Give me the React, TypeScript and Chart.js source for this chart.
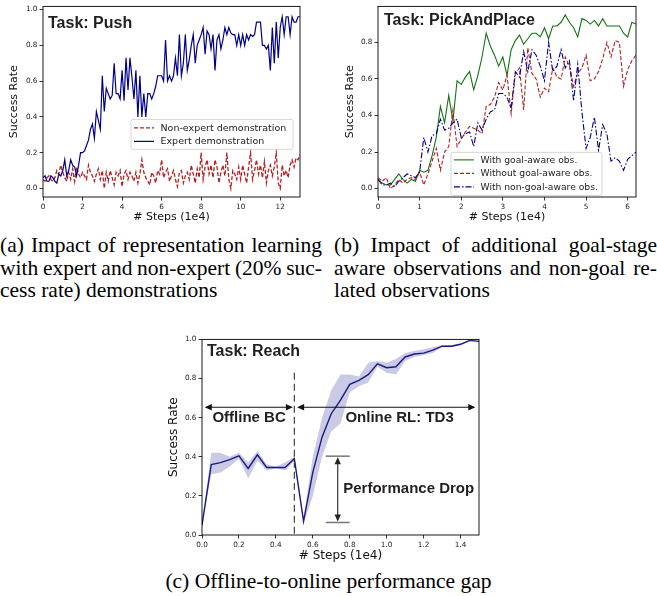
import { useEffect, useRef } from "react";
import { Chart, registerables } from "chart.js";

Chart.register(...registerables);

// ---- data (success rate per evaluation step) ----

// (a) Push: evaluations every 0.1 (x1e4) steps, 0 .. 13
const pushNonExpert = [
	0.05, 0.04, 0.06, 0.07, 0.05, 0.04, 0.06, 0.1, 0.08, 0.13,
	0.09, 0.06, 0.04, 0.09, 0.05, 0.11, 0.04, 0.12, 0.08, 0.06,
	0.09, 0.07, 0.05, 0.13, 0.09, 0.07, 0.04, 0.08, 0.11, 0.05,
	0.1, 0.0, 0.09, 0.04, 0.1, 0.06, 0.02, 0.09, 0.07, 0.1,
	0.01, 0.08, 0.1, 0.05, 0.09, 0.07, 0.04, 0.09, 0.03, 0.08,
	0.16, 0.09, 0.06, 0.04, 0.02, 0.09, 0.07, 0.03, 0.1, 0.08,
	0.16, 0.06, 0.09, 0.11, 0.04, 0.07, 0.1, 0.05, 0.01, 0.09,
	0.1, 0.03, 0.07, 0.09, 0.05, 0.13, 0.08, 0.03, 0.11, 0.06,
	0.2, 0.05, 0.12, 0.16, 0.08, 0.13, 0.06, 0.16, 0.12, 0.03,
	0.09, 0.13, 0.07, 0.2, 0.05, 0.0, 0.1, 0.08, 0.05, 0.12,
	0.05, 0.13, 0.08, 0.03, 0.12, 0.2, 0.05, 0.1, 0.16, 0.08,
	0.13, 0.06, 0.15, 0.03, 0.1, 0.13, 0.07, 0.12, 0.2, 0.03,
	0.0, 0.13, 0.07, 0.1, 0.06, 0.13, 0.16, 0.12, 0.17, 0.16,
	0.19,
];
const pushExpert = [
	0.06, 0.07, 0.04, 0.04, 0.07, 0.06, 0.04, 0.03, 0.08, 0.07,
	0.1, 0.16, 0.07, 0.1, 0.16, 0.13, 0.12, 0.07, 0.13, 0.2,
	0.2, 0.21, 0.24, 0.27, 0.33, 0.36, 0.28, 0.43, 0.38, 0.33,
	0.63, 0.43, 0.56, 0.53, 0.5, 0.52, 0.7, 0.53, 0.53, 0.5,
	0.66, 0.49, 0.73, 0.55, 0.73, 0.62, 0.5, 0.66, 0.4, 0.63,
	0.4, 0.53, 0.4, 0.53, 0.53, 0.5, 0.53, 0.57, 0.63, 0.63,
	0.63, 0.6, 0.83, 0.6, 0.63, 0.6, 0.63, 0.73, 0.63, 0.86,
	0.63, 0.7, 0.86, 0.66, 0.72, 0.8, 0.86, 0.7, 0.8, 0.83,
	0.86, 0.9, 0.75, 0.88, 0.86, 0.78, 0.86, 0.66, 0.83, 0.86,
	0.78, 0.83, 0.9, 0.86, 0.9, 0.87, 0.86, 0.86, 0.8, 0.86,
	0.8, 0.86, 0.8, 0.86, 0.83, 0.86, 0.85, 0.86, 0.93, 0.93,
	0.93, 0.8, 0.8, 0.78, 0.8, 0.66, 0.9, 0.7, 0.93, 0.73,
	0.9, 0.96, 0.86, 0.96, 0.96, 0.86, 0.96, 0.93, 0.93, 0.96,
	0.96,
];

// (b) PickAndPlace: every 0.1 (x1e4) steps, 0 .. 6.2
const pickGoalAware = [
	0.05, 0.03, 0.02, 0.02, 0.05, 0.08, 0.05, 0.03, 0.05, 0.04,
	0.1, 0.09, 0.1, 0.18, 0.28, 0.45, 0.36, 0.51, 0.37, 0.59,
	0.57, 0.61, 0.64, 0.54, 0.62, 0.72, 0.85, 0.78, 0.73, 0.67,
	0.72, 0.62, 0.76, 0.81, 0.84, 0.79, 0.82, 0.85, 0.85, 0.83,
	0.88, 0.82, 0.89, 0.89, 0.91, 0.95, 0.91, 0.88, 0.83, 0.93,
	0.92, 0.9, 0.92, 0.89, 0.93, 0.89, 0.89, 0.89, 0.89, 0.85,
	0.83, 0.91, 0.9,
];
const pickWithoutGoalAware = [
	0.06, 0.04, 0.06, 0.0, 0.02, 0.05, 0.03, 0.05, 0.06, 0.05,
	0.09, 0.02, 0.08, 0.15, 0.22, 0.1, 0.2, 0.23, 0.43, 0.23,
	0.27, 0.31, 0.34, 0.33, 0.32, 0.3, 0.45, 0.46, 0.5, 0.58,
	0.54, 0.62, 0.41, 0.63, 0.66, 0.43, 0.77, 0.63, 0.6, 0.5,
	0.55, 0.53, 0.66, 0.61, 0.6, 0.72, 0.67, 0.56, 0.63, 0.66,
	0.73, 0.59, 0.6, 0.64, 0.71, 0.8, 0.72, 0.81, 0.8, 0.56,
	0.65, 0.7, 0.73,
];
const pickNonGoalAware = [
	0.05, 0.02, 0.02, 0.03, 0.01, 0.04, 0.06, 0.08, 0.07, 0.06,
	0.09, 0.28, 0.2, 0.29, 0.3, 0.38, 0.32, 0.33, 0.36, 0.38,
	0.28, 0.3, 0.31, 0.23, 0.36, 0.32, 0.38, 0.42, 0.43, 0.52,
	0.52, 0.5, 0.44, 0.64, 0.61, 0.75, 0.64, 0.76, 0.73, 0.67,
	0.59, 0.8, 0.64, 0.67, 0.76, 0.66, 0.7, 0.48, 0.68, 0.42,
	0.22, 0.28, 0.39, 0.21, 0.35, 0.3, 0.15, 0.17, 0.15, 0.1,
	0.16, 0.18, 0.2,
];

// (c) Reach: every 0.05 (x1e4) steps, 0 .. 1.5, mean with min/max band
const reachMean = [
	0.05, 0.36, 0.37, 0.385, 0.405, 0.34, 0.41, 0.345, 0.345, 0.345, 0.39,
	0.07, 0.32, 0.5, 0.62, 0.69, 0.77, 0.79, 0.82, 0.875, 0.855,
	0.86, 0.91, 0.925, 0.93, 0.945, 0.965, 0.965, 0.975, 0.995, 0.99,
];
const reachUpper = [
	0.05, 0.42, 0.42, 0.4, 0.42, 0.37, 0.43, 0.36, 0.35, 0.37, 0.4,
	0.09, 0.4, 0.6, 0.74, 0.82, 0.82, 0.81, 0.88, 0.89, 0.88,
	0.9, 0.93, 0.94, 0.95, 0.96, 0.97, 0.97, 0.98, 1.0, 0.99,
];
const reachLower = [
	0.05, 0.31, 0.32, 0.35, 0.39, 0.29, 0.38, 0.33, 0.34, 0.33, 0.38,
	0.06, 0.2, 0.4, 0.53, 0.57, 0.73, 0.76, 0.78, 0.86, 0.83,
	0.82, 0.89, 0.91, 0.92, 0.93, 0.96, 0.96, 0.97, 0.99, 0.99,
];

// tick labels
const pushTicksX = [0, 2, 4, 6, 8, 10, 12];
const pickTicksX = [0, 1, 2, 3, 4, 5, 6];
const reachTicksX = [0, 0.2, 0.4, 0.6, 0.8, 1.0, 1.2, 1.4];
const rateTicks = [0, 0.2, 0.4, 0.6, 0.8, 1.0];
const pickRateTicks = [0, 0.2, 0.4, 0.6, 0.8];

// annotation anchors for (c), in data units
const phaseSplit = 0.5;
const phaseLineTop = 0.83;
const phaseArrowY = 0.653;
const offlineSpan = [0.015, 0.492];
const onlineSpan = [0.515, 1.48];
const phaseLabelY = 0.58;
const offlineLabelX = 0.255;
const onlineLabelX = 1.07;
const dropX = 0.735;
const dropTop = 0.403;
const dropBottom = 0.064;
const dropCap = [0.67, 0.8];
const dropLabelX = 0.765;
const dropLabelY = 0.215;

// evaluation grid (x axis sampling)
const stepGrid = (count: number, step: number) =>
	Array.from({ length: count }, (_, i) => Number((i * step).toFixed(2)));

const TICK_FONT = "DejaVu Sans";
const TEXT_DARK = "#231f20";
const BOLD_SANS = '"Liberation Sans", Arial, sans-serif';

type LegendSpec = { dx: number; dy: number; w: number; h: number; rowTop: number; rowGap: number; size: number };

interface PanelProps {
	left: number;
	top: number;
	width: number;
	height: number;
	padTop: number;
	padRight: number;
	yWidth: number;
	xHeight: number;
	labelSize: number;
	xRange: [number, number];
	yRange: [number, number];
	xTicks: number[];
	yTicks: number[];
	xDigits: number;
	labels: number[];
	datasets: any[];
	title: string;
	titleDx: number;
	titleDy: number;
	legend?: LegendSpec;
	decorate?: (chart: Chart) => void;
}

function arrowHead(ctx: CanvasRenderingContext2D, x: number, y: number, dx: number, dy: number) {
	const len = 7;
	const half = 3.2;
	const nx = -dy;
	const ny = dx;
	ctx.beginPath();
	ctx.moveTo(x, y);
	ctx.lineTo(x - dx * len + nx * half, y - dy * len + ny * half);
	ctx.lineTo(x - dx * len - nx * half, y - dy * len - ny * half);
	ctx.closePath();
	ctx.fill();
}

function doubleArrow(ctx: CanvasRenderingContext2D, x1: number, y1: number, x2: number, y2: number) {
	const d = Math.hypot(x2 - x1, y2 - y1);
	const ux = (x2 - x1) / d;
	const uy = (y2 - y1) / d;
	ctx.beginPath();
	ctx.moveTo(x1 + ux * 5, y1 + uy * 5);
	ctx.lineTo(x2 - ux * 5, y2 - uy * 5);
	ctx.stroke();
	arrowHead(ctx, x2, y2, ux, uy);
	arrowHead(ctx, x1, y1, -ux, -uy);
}

function drawLegend(chart: Chart, spec: LegendSpec) {
	const { ctx, chartArea } = chart;
	const x = chartArea.left + spec.dx;
	const y = chartArea.top + spec.dy;
	ctx.save();
	ctx.beginPath();
	ctx.roundRect(x, y, spec.w, spec.h, 2);
	ctx.fillStyle = "rgba(255,255,255,0.85)";
	ctx.fill();
	ctx.strokeStyle = "#cccccc";
	ctx.lineWidth = 0.8;
	ctx.stroke();
	ctx.font = `${spec.size}px "${TICK_FONT}"`;
	ctx.textBaseline = "middle";
	chart.data.datasets.forEach((ds: any, i) => {
		const rowY = y + spec.rowTop + i * spec.rowGap;
		ctx.strokeStyle = ds.borderColor;
		ctx.lineWidth = ds.borderWidth;
		ctx.setLineDash(ds.borderDash || []);
		ctx.beginPath();
		ctx.moveTo(x + 3, rowY);
		ctx.lineTo(x + 23, rowY);
		ctx.stroke();
		ctx.setLineDash([]);
		ctx.fillStyle = "#222";
		ctx.fillText(ds.label, x + 29.5, rowY + 0.5);
	});
	ctx.restore();
}

function decorateReach(chart: Chart) {
	const { ctx, chartArea } = chart;
	const xs = chart.scales.x;
	const ys = chart.scales.y;
	const px = (v: number) => xs.getPixelForValue(v);
	const py = (v: number) => ys.getPixelForValue(v);
	ctx.save();

	// phase boundary
	ctx.strokeStyle = "#333";
	ctx.lineWidth = 1.1;
	ctx.setLineDash([7, 4]);
	ctx.beginPath();
	ctx.moveTo(px(phaseSplit), py(phaseLineTop));
	ctx.lineTo(px(phaseSplit), chartArea.bottom);
	ctx.stroke();
	ctx.setLineDash([]);

	ctx.strokeStyle = "#111";
	ctx.fillStyle = "#111";
	ctx.lineWidth = 1.2;
	doubleArrow(ctx, px(offlineSpan[0]), py(phaseArrowY), px(offlineSpan[1]), py(phaseArrowY));
	doubleArrow(ctx, px(onlineSpan[0]), py(phaseArrowY), px(onlineSpan[1]), py(phaseArrowY));

	// performance drop marker
	ctx.strokeStyle = "#777";
	ctx.lineWidth = 1.5;
	[dropTop, dropBottom].forEach((v) => {
		ctx.beginPath();
		ctx.moveTo(px(dropCap[0]), py(v));
		ctx.lineTo(px(dropCap[1]), py(v));
		ctx.stroke();
	});
	ctx.strokeStyle = "#222";
	ctx.fillStyle = "#222";
	ctx.lineWidth = 1.1;
	doubleArrow(ctx, px(dropX), py(dropTop) + 1, px(dropX), py(dropBottom) - 1);

	ctx.fillStyle = TEXT_DARK;
	ctx.font = `bold 15px ${BOLD_SANS}`;
	ctx.textBaseline = "alphabetic";
	ctx.textAlign = "center";
	ctx.fillText("Offline BC", px(offlineLabelX), py(phaseLabelY));
	ctx.fillText("Online RL: TD3", px(onlineLabelX), py(phaseLabelY));
	ctx.textAlign = "left";
	ctx.fillText("Performance Drop", px(dropLabelX), py(dropLabelY));
	ctx.restore();
}

function Panel(props: PanelProps) {
	const canvasRef = useRef<HTMLCanvasElement | null>(null);

	useEffect(() => {
		if (!canvasRef.current) {
			return;
		}

		const tickFont = { family: TICK_FONT, size: 7.3 };
		const titleFont = { family: TICK_FONT, size: props.labelSize };

		const panelPlugin = {
			id: "panelDecor",
			afterDatasetsDraw(chart: Chart) {
				if (props.decorate) props.decorate(chart);
				if (props.legend) drawLegend(chart, props.legend);
			},
			afterDraw(chart: Chart) {
				const { ctx, chartArea } = chart;
				ctx.save();
				ctx.strokeStyle = "#000";
				ctx.lineWidth = 0.9;
				ctx.strokeRect(chartArea.left, chartArea.top, chartArea.right - chartArea.left, chartArea.bottom - chartArea.top);
				ctx.fillStyle = TEXT_DARK;
				ctx.font = `bold 16px ${BOLD_SANS}`;
				ctx.textBaseline = "alphabetic";
				ctx.fillText(props.title, chartArea.left + props.titleDx, chartArea.top + props.titleDy);
				ctx.restore();
			},
		};

		const chart = new Chart(canvasRef.current, {
			type: "line",
			data: { labels: props.labels, datasets: props.datasets },
			options: {
				animation: false,
				responsive: false,
				maintainAspectRatio: false,
				layout: { padding: { top: props.padTop, right: props.padRight, left: 0, bottom: 0 } },
				elements: { point: { radius: 0 }, line: { tension: 0 } },
				plugins: { legend: { display: false }, tooltip: { enabled: false } },
				scales: {
					x: {
						type: "linear",
						min: props.xRange[0],
						max: props.xRange[1],
						afterBuildTicks: (scale: any) => {
							scale.ticks = props.xTicks.map((value) => ({ value }));
						},
						afterFit: (scale: any) => {
							scale.height = props.xHeight;
						},
						ticks: {
							font: tickFont,
							color: "#222",
							padding: 2,
							maxRotation: 0,
							autoSkip: false,
							callback: (value: string | number) => Number(value).toFixed(props.xDigits),
						},
						grid: { drawOnChartArea: false, tickLength: 3.5, color: "#000", lineWidth: 0.8 },
						border: { display: false },
						title: { display: true, text: "# Steps (1e4)", font: titleFont, color: "#111", padding: 0 },
					},
					y: {
						type: "linear",
						min: props.yRange[0],
						max: props.yRange[1],
						afterBuildTicks: (scale: any) => {
							scale.ticks = props.yTicks.map((value) => ({ value }));
						},
						afterFit: (scale: any) => {
							scale.width = props.yWidth;
						},
						ticks: {
							font: tickFont,
							color: "#222",
							padding: 2,
							autoSkip: false,
							callback: (value: string | number) => Number(value).toFixed(1),
						},
						grid: { drawOnChartArea: false, tickLength: 3.5, color: "#000", lineWidth: 0.8 },
						border: { display: false },
						title: { display: true, text: "Success Rate", font: titleFont, color: "#111", padding: 0 },
					},
				},
			},
			plugins: [panelPlugin],
		});

		return () => {
			chart.destroy();
		};
	}, [props]);

	return (
		<canvas
			ref={canvasRef}
			width={props.width}
			height={props.height}
			style={{ position: "absolute", left: props.left, top: props.top, width: props.width, height: props.height }}
		/>
	);
}

function Caption({ left, top, width, lines, center }: { left: number; top: number; width: number; lines: string[]; center?: boolean }) {
	return (
		<div
			style={{
				position: "absolute",
				left,
				top,
				width,
				fontFamily: '"Liberation Serif", "Times New Roman", serif',
				fontSize: 21.5,
				lineHeight: "22.5px",
				color: "#000",
				textAlign: center ? "center" : "left",
			}}
		>
			{lines.map((line, i) => {
				const justify = !center && i < lines.length - 1;
				return (
					<div
						key={i}
						style={{
							textAlign: justify ? "justify" : center ? "center" : "left",
							textAlignLast: justify ? "justify" : center ? "center" : "left",
							wordSpacing: justify ? -2.5 : 0,
						}}
					>
						{line}
					</div>
				);
			})}
		</div>
	);
}

const pushProps: PanelProps = {
	left: 8,
	top: 0,
	width: 302,
	height: 224,
	padTop: 5,
	padRight: 10,
	yWidth: 35,
	xHeight: 27,
	labelSize: 11,
	xRange: [0, 13],
	yRange: [-0.048, 1.018],
	xTicks: pushTicksX,
	yTicks: rateTicks,
	xDigits: 0,
	labels: stepGrid(pushExpert.length, 0.1),
	datasets: [
		{ label: "Non-expert demonstration", data: pushNonExpert, borderColor: "#b22222", borderWidth: 1.3, borderDash: [4, 2], order: 1 },
		{ label: "Expert demonstration", data: pushExpert, borderColor: "#00008b", borderWidth: 1.2, order: 0 },
	],
	title: "Task: Push",
	titleDx: 5,
	titleDy: 22,
	legend: { dx: 88, dy: 113, w: 162, h: 30, rowTop: 8.5, rowGap: 13.5, size: 9.5 },
};

const pickProps: PanelProps = {
	left: 344,
	top: 0,
	width: 302,
	height: 224,
	padTop: 5,
	padRight: 10,
	yWidth: 34,
	xHeight: 27,
	labelSize: 11,
	xRange: [0, 6.2],
	yRange: [-0.046, 0.997],
	xTicks: pickTicksX,
	yTicks: pickRateTicks,
	xDigits: 0,
	labels: stepGrid(pickGoalAware.length, 0.1),
	datasets: [
		{ label: "With goal-aware obs.", data: pickGoalAware, borderColor: "#137313", borderWidth: 1.1, order: 2 },
		{ label: "Without goal-aware obs.", data: pickWithoutGoalAware, borderColor: "#b22222", borderWidth: 1.1, borderDash: [4, 2], order: 1 },
		{ label: "With non-goal-aware obs.", data: pickNonGoalAware, borderColor: "#00008b", borderWidth: 1.1, borderDash: [6, 2, 1.5, 2], order: 0 },
	],
	title: "Task: PickAndPlace",
	titleDx: 6,
	titleDy: 18.3,
	legend: { dx: 73, dy: 146, w: 151, h: 43, rowTop: 7.5, rowGap: 13.5, size: 9.2 },
};

const reachProps: PanelProps = {
	left: 167,
	top: 333,
	width: 322,
	height: 230,
	padTop: 5,
	padRight: 10,
	yWidth: 35,
	xHeight: 28,
	labelSize: 12,
	xRange: [0, 1.5],
	yRange: [0, 1],
	xTicks: reachTicksX,
	yTicks: rateTicks,
	xDigits: 1,
	labels: stepGrid(reachMean.length, 0.05),
	datasets: [
		{ label: "mean", data: reachMean, borderColor: "#1a1a80", borderWidth: 1.4, fill: false },
		{ label: "lower", data: reachLower, borderWidth: 0, borderColor: "rgba(0,0,0,0)", fill: false },
		{ label: "upper", data: reachUpper, borderWidth: 0, borderColor: "rgba(0,0,0,0)", fill: "-1", backgroundColor: "rgba(80,80,175,0.3)" },
	],
	title: "Task: Reach",
	titleDx: 5,
	titleDy: 16.3,
	decorate: decorateReach,
};

export default function App() {
	return (
		<div style={{ position: "absolute", left: 0, top: 0, width: 657, height: 596, background: "#fff", overflow: "hidden" }}>
			<Panel {...pushProps} />
			<Panel {...pickProps} />
			<Panel {...reachProps} />
			<Caption
				left={0}
				top={234}
				width={322}
				lines={["(a) Impact of representation learning", "with expert and non-expert (20% suc-", "cess rate) demonstrations"]}
			/>
			<Caption
				left={334}
				top={234}
				width={323}
				lines={["(b) Impact of additional goal-stage", "aware observations and non-goal re-", "lated observations"]}
			/>
			<Caption left={0} top={570} width={657} center lines={["(c) Offline-to-online performance gap"]} />
		</div>
	);
}
